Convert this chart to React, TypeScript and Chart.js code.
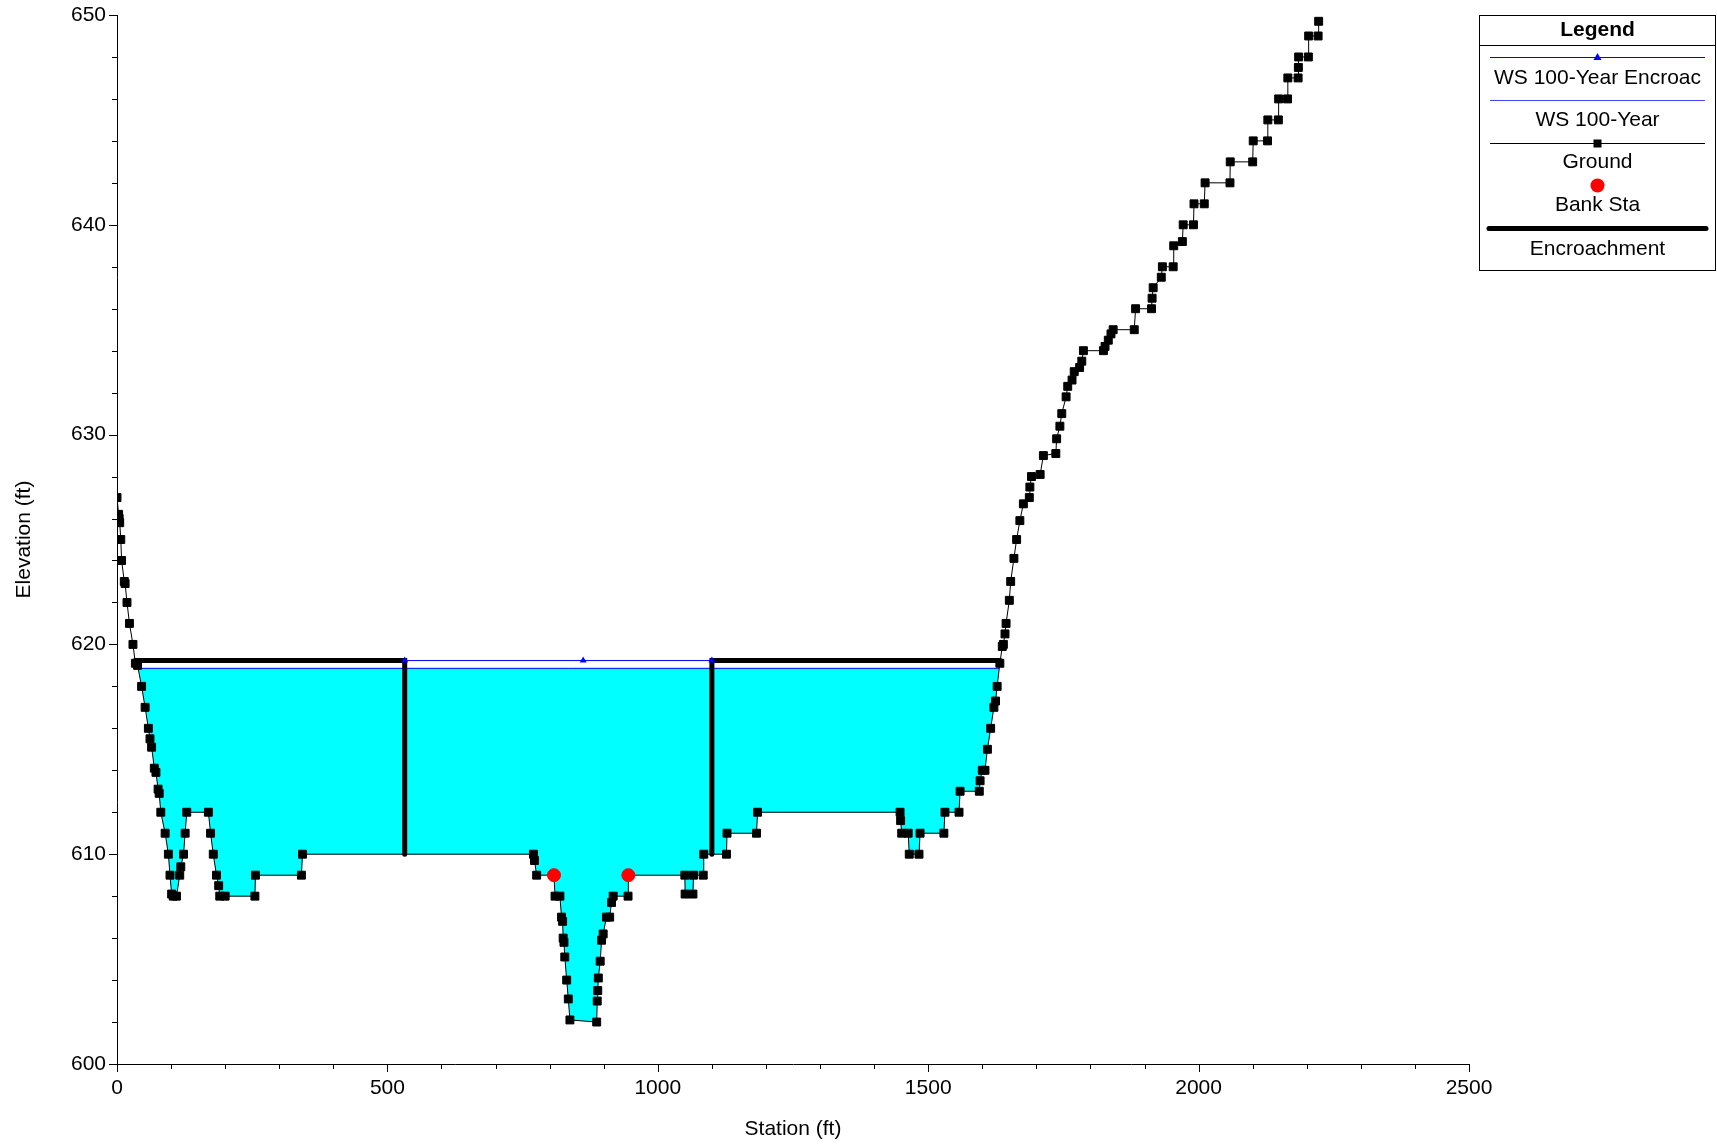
import React, { useEffect, useRef } from "react";
import { Chart, registerables } from "chart.js";

Chart.register(...registerables);

// ---------------- data ----------------
const groundStation = [
  0, 3, 4, 5, 7, 8.5, 13.5, 15, 18.5, 23, 29.5, 34, 38, 45.5, 52, 58, 61, 64, 69, 72,
  76, 78, 81, 89, 95, 98, 101, 104, 110, 116, 118, 123, 126, 129, 169, 173, 178, 184, 188, 190,
  200, 255, 256, 341, 343, 770, 772, 776, 808, 810, 819, 822, 824, 825, 826.5, 828, 831.5, 834.5, 837.5, 887,
  888, 889, 890, 893.5, 896, 899, 905, 911, 914.5, 917.5, 945, 945.5, 1050, 1050.5, 1065, 1066, 1084, 1085, 1127, 1128,
  1182.5, 1184.5, 1448, 1449, 1451, 1463, 1465, 1483, 1485, 1529, 1531, 1557, 1559, 1594.5, 1596, 1600, 1605, 1609.5, 1615.5, 1621.5,
  1624.5, 1627.5, 1632.5, 1637, 1639, 1642, 1644, 1650, 1652.5, 1658.5, 1663.5, 1669.5, 1676, 1687, 1688, 1691, 1707, 1713, 1736, 1737.5,
  1743.5, 1747, 1755, 1758, 1766, 1770, 1780, 1784, 1787, 1824, 1827, 1833, 1838, 1842, 1881, 1883.5, 1913, 1914, 1916, 1931,
  1933, 1953, 1954, 1970, 1971.5, 1990.5, 1991.5, 2010.5, 2012, 2058, 2058.5, 2100, 2101, 2127.5, 2128, 2147.5, 2148, 2164.5, 2165, 2184,
  2184.5, 2185, 2203, 2203.5, 2221, 2222,
];
const groundElev = [
  627.0, 626.2, 626.0, 625.8, 625.0, 624.0, 623.0, 622.9, 622.0, 621.0, 620.0, 619.1, 619.0, 618.0, 617.0, 616.0, 615.5, 615.1, 614.1, 613.9,
  613.1, 612.9, 612.0, 611.0, 610.0, 609.0, 608.1, 608.0, 608.0, 609.0, 609.4, 610.0, 611.0, 612.0, 612.0, 611.0, 610.0, 609.0, 608.5, 608.0,
  608.0, 608.0, 609.0, 609.0, 610.0, 610.0, 609.7, 609.0, 609.0, 608.0, 608.0, 607.0, 606.8, 606.0, 605.8, 605.1, 604.0, 603.1, 602.1, 602.0,
  603.0, 603.5, 604.1, 604.9, 605.9, 606.2, 607.0, 607.0, 607.7, 608.0, 608.0, 609.0, 609.0, 608.1, 608.1, 609.0, 609.0, 610.0, 610.0, 611.0,
  611.0, 612.0, 612.0, 611.6, 611.0, 611.0, 610.0, 610.0, 611.0, 611.0, 612.0, 612.0, 613.0, 613.0, 613.5, 614.0, 614.0, 615.0, 616.0, 617.0,
  617.3, 618.0, 619.1, 619.9, 620.0, 620.5, 621.0, 622.1, 623.0, 624.1, 625.0, 625.9, 626.7, 627.0, 627.5, 628.0, 628.1, 629.0, 629.1, 629.8,
  630.4, 631.0, 631.8, 632.3, 632.6, 633.0, 633.2, 633.5, 634.0, 634.0, 634.2, 634.5, 634.8, 635.0, 635.0, 636.0, 636.0, 636.5, 637.0, 637.5,
  638.0, 638.0, 639.0, 639.2, 640.0, 640.0, 641.0, 641.0, 642.0, 642.0, 643.0, 643.0, 644.0, 644.0, 645.0, 645.0, 646.0, 646.0, 647.0, 647.0,
  647.5, 648.0, 648.0, 649.0, 649.0, 649.7,
];
const bankStation = [808, 945.5];
const bankElev = [609.0, 609.0];
const wsEncroachStation = [532, 862, 1100];
const wsEncroachElev = [619.23, 619.23, 619.23];
const ws100Station = [39.5, 1631.4];
const ws100Elev = [618.86, 618.86];
const encroachLeftStation = [33.5, 532, 532];
const encroachLeftElev = [619.23, 619.23, 610.0];
const encroachRightStation = [1100, 1100, 1633.3];
const encroachRightElev = [610.0, 619.23, 619.23];

const xMin = 0, xMax = 2500, xMajor = 500, xMinor = 100;
const yMin = 600, yMax = 650, yMajor = 10, yMinor = 2;

const legendTitle = "Legend";
const legendLabels = ["WS 100-Year Encroac", "WS 100-Year", "Ground", "Bank Sta", "Encroachment"];

const FONT = "'Liberation Sans', Arial, sans-serif";

const pts = (xs: number[], ys: number[]) => xs.map((x, i) => ({ x, y: ys[i] }));

// wetted section: ground points between the water edges, closed at the water surface
const wettedPoints = () => {
  const left = ws100Station[0], right = ws100Station[ws100Station.length - 1];
  const inner = pts(groundStation, groundElev).filter((p) => p.x > left && p.x < right);
  return [{ x: left, y: ws100Elev[0] }, ...inner, { x: right, y: ws100Elev[1] }];
};

// ---------------- plugin: minor ticks + legend ----------------
const decorPlugin = {
  id: "decor",
  afterDraw(chart: any) {
    const { ctx, chartArea, scales } = chart;
    const xs = scales.x, ys = scales.y;
    ctx.save();
    ctx.strokeStyle = "#000";
    ctx.lineWidth = 1;
    ctx.beginPath();
    const ny = Math.round((yMax - yMin) / yMinor);
    for (let i = 0; i <= ny; i++) {
      const v = yMin + i * yMinor;
      const py = Math.round(ys.getPixelForValue(v)) + 0.5;
      const len = (i * yMinor) % yMajor === 0 ? 8 : 5;
      ctx.moveTo(chartArea.left - len, py);
      ctx.lineTo(chartArea.left, py);
    }
    const nx = Math.round((xMax - xMin) / xMinor);
    for (let i = 0; i <= nx; i++) {
      const v = xMin + i * xMinor;
      const px = Math.round(xs.getPixelForValue(v)) + 0.5;
      const len = (i * xMinor) % xMajor === 0 ? 8 : 5;
      ctx.moveTo(px, chartArea.bottom);
      ctx.lineTo(px, chartArea.bottom + len);
    }
    ctx.stroke();

    // legend box
    const bx = 1479.5, by = 15.5, bw = 236, bh = 255;
    const cx = bx + bw / 2;
    ctx.fillStyle = "#fff";
    ctx.fillRect(bx, by, bw, bh);
    ctx.strokeStyle = "#000";
    ctx.lineWidth = 1;
    ctx.strokeRect(bx, by, bw, bh);
    ctx.beginPath();
    ctx.moveTo(bx, 45.5);
    ctx.lineTo(bx + bw, 45.5);
    ctx.stroke();

    ctx.save();
    ctx.beginPath();
    ctx.rect(bx + 1, by + 1, bw - 2, bh - 2);
    ctx.clip();
    ctx.textAlign = "center";
    ctx.textBaseline = "alphabetic";
    ctx.fillStyle = "#000";
    ctx.font = `bold 21px ${FONT}`;
    ctx.fillText(legendTitle, cx, 36);
    ctx.font = `21px ${FONT}`;
    const textY = [84, 126, 168, 211, 255];
    legendLabels.forEach((t, i) => ctx.fillText(t, cx, textY[i]));

    const lx0 = 1490, lx1 = 1705;
    ctx.strokeStyle = "#0000ff";
    ctx.lineWidth = 1;
    ctx.beginPath();
    ctx.moveTo(lx0, 57.5); ctx.lineTo(lx1, 57.5);
    ctx.stroke();
    ctx.fillStyle = "#0000ff";
    ctx.beginPath();
    ctx.moveTo(cx, 53); ctx.lineTo(cx + 4, 60); ctx.lineTo(cx - 4, 60); ctx.closePath();
    ctx.fill();
    ctx.strokeStyle = "#4646ff";
    ctx.beginPath();
    ctx.moveTo(lx0, 100.5); ctx.lineTo(lx1, 100.5);
    ctx.stroke();
    ctx.strokeStyle = "#000";
    ctx.beginPath();
    ctx.moveTo(lx0, 143.5); ctx.lineTo(lx1, 143.5);
    ctx.stroke();
    ctx.fillStyle = "#000";
    ctx.fillRect(cx - 4, 139.5, 8, 8);
    ctx.fillStyle = "#ff0000";
    ctx.beginPath();
    ctx.arc(cx, 185.5, 7, 0, Math.PI * 2);
    ctx.fill();
    ctx.strokeStyle = "#000";
    ctx.lineWidth = 5;
    ctx.lineCap = "round";
    ctx.beginPath();
    ctx.moveTo(lx0 - 1, 228.5); ctx.lineTo(lx1 + 1, 228.5);
    ctx.stroke();
    ctx.restore();

    ctx.restore();
  },
};

export default function App() {
  const ref = useRef<HTMLCanvasElement | null>(null);

  useEffect(() => {
    if (!ref.current) return;
    const chart = new Chart(ref.current, {
      type: "scatter",
      data: {
        datasets: [
          {
            label: "Bank Sta",
            data: pts(bankStation, bankElev),
            showLine: false,
            pointStyle: "circle",
            pointRadius: 6.5,
            pointBackgroundColor: "#ff0000",
            pointBorderColor: "#ff0000",
            pointBorderWidth: 1,
            order: 0,
          },
          {
            label: "Ground",
            data: pts(groundStation, groundElev),
            showLine: true,
            borderColor: "#000",
            borderWidth: 1,
            pointStyle: "rect",
            pointRadius: 5.6,
            pointBackgroundColor: "#000",
            pointBorderColor: "#000",
            pointBorderWidth: 1,
            fill: false,
            order: 1,
          },
          {
            label: "WS 100-Year Encroac",
            data: pts(wsEncroachStation, wsEncroachElev),
            showLine: true,
            borderColor: "#0000ff",
            borderWidth: 1,
            pointStyle: "triangle",
            pointRadius: 4,
            pointBackgroundColor: "#0000ff",
            pointBorderColor: "#0000ff",
            pointBorderWidth: 0,
            order: 2,
          },
          {
            label: "Encroachment",
            data: pts(encroachLeftStation, encroachLeftElev),
            showLine: true,
            borderColor: "#000",
            borderWidth: 5,
            pointRadius: 0,
            borderCapStyle: "round",
            borderJoinStyle: "miter",
            order: 3,
          },
          {
            label: "Encroachment R",
            data: pts(encroachRightStation, encroachRightElev),
            showLine: true,
            borderColor: "#000",
            borderWidth: 5,
            pointRadius: 0,
            borderCapStyle: "round",
            borderJoinStyle: "miter",
            order: 3,
          },
          {
            label: "WS 100-Year",
            data: pts(ws100Station, ws100Elev),
            showLine: true,
            borderColor: "#0000ff",
            borderWidth: 1,
            pointRadius: 0,
            order: 4,
          },
          {
            label: "WS 100-Year fill",
            data: wettedPoints(),
            showLine: true,
            borderWidth: 0,
            borderColor: "rgba(0,0,0,0)",
            pointRadius: 0,
            backgroundColor: "#00ffff",
            fill: { target: { value: ws100Elev[0] } },
            order: 10,
          },
        ],
      },
      options: {
        responsive: false,
        animation: false,
        devicePixelRatio: 1,
        layout: { padding: { left: 0, right: 248, top: 15, bottom: 0 } },
        plugins: {
          legend: { display: false },
          tooltip: { enabled: false },
          title: { display: false },
          filler: { drawTime: "beforeDatasetsDraw" },
        },
        elements: { line: { tension: 0 } },
        scales: {
          x: {
            type: "linear",
            min: xMin,
            max: xMax,
            grid: { display: false, drawTicks: false },
            border: { display: true, color: "#000", width: 1 },
            ticks: {
              stepSize: xMajor,
              autoSkip: false,
              maxRotation: 0,
              color: "#000",
              padding: 12,
              font: { family: FONT, size: 21 },
              callback: (v: any) => String(v),
            },
            title: {
              display: true,
              text: "Station (ft)",
              color: "#000",
              font: { family: FONT, size: 21 },
              padding: { top: 0, bottom: 4 },
            },
            afterFit: (s: any) => {
              s.height = 82;
              s.paddingLeft = 0;
              s.paddingRight = 0;
            },
          },
          y: {
            type: "linear",
            min: yMin,
            max: yMax,
            grid: { display: false, drawTicks: false },
            border: { display: true, color: "#000", width: 1 },
            ticks: {
              stepSize: yMajor,
              autoSkip: false,
              color: "#000",
              padding: 11,
              font: { family: FONT, size: 21 },
              callback: (v: any) => String(v),
            },
            title: {
              display: true,
              text: "Elevation (ft)",
              color: "#000",
              font: { family: FONT, size: 21 },
              padding: { top: 12, bottom: 0 },
            },
            afterFit: (s: any) => {
              s.width = 117;
              s.paddingTop = 0;
              s.paddingBottom = 0;
            },
          },
        },
      },
      plugins: [decorPlugin],
    } as any);
    return () => chart.destroy();
  }, []);

  return (
    <div style={{ position: "fixed", left: 0, top: 0, width: 1717, height: 1146, background: "#fff" }}>
      <canvas ref={ref} width={1717} height={1146} style={{ display: "block", width: 1717, height: 1146 }} />
    </div>
  );
}
